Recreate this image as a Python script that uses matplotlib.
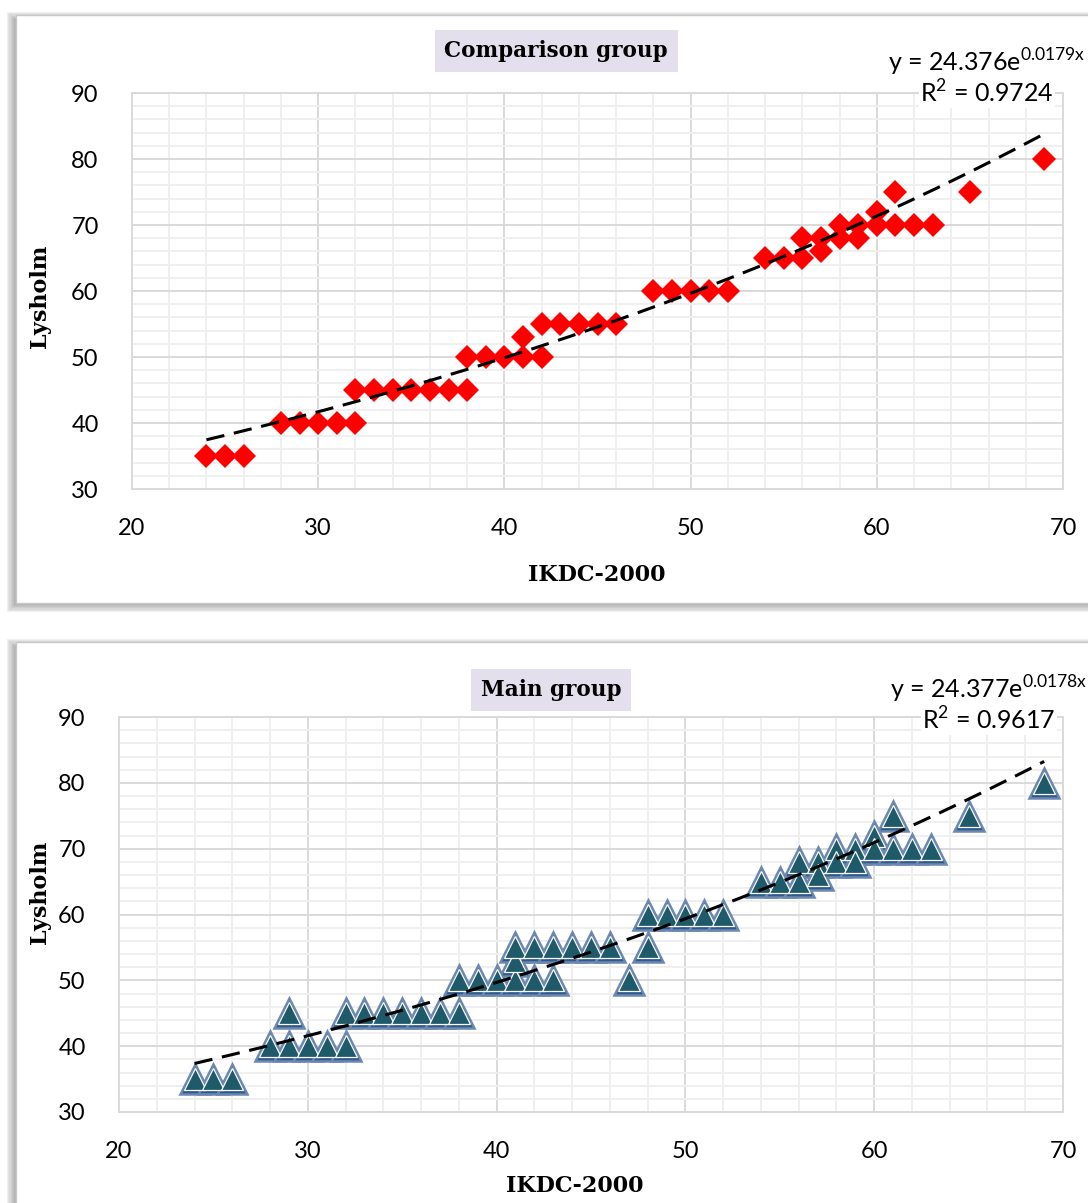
import numpy as np
import matplotlib
matplotlib.use("Agg")
import matplotlib.pyplot as plt
from matplotlib.patches import Rectangle
from matplotlib.ticker import MultipleLocator

########################
# Donnees
########################

# Comparison group (IKDC-2000, Lysholm)
comp_x = [24, 25, 26, 28, 29, 30, 31, 32, 32, 33, 34, 35, 36, 37, 38,
          38, 39, 40, 41, 42, 41, 42, 43, 44, 45, 46, 48, 49, 50, 51, 52,
          54, 55, 56, 56, 57, 57, 58, 58, 59, 59, 60, 60, 61, 61, 62, 63, 65, 69]
comp_y = [35, 35, 35, 40, 40, 40, 40, 40, 45, 45, 45, 45, 45, 45, 45,
          50, 50, 50, 50, 50, 53, 55, 55, 55, 55, 55, 60, 60, 60, 60, 60,
          65, 65, 65, 68, 68, 66, 70, 68, 70, 68, 72, 70, 75, 70, 70, 70, 75, 80]
comp_a, comp_b = 24.376, 0.0179
comp_r2 = "0.9724"

# Main group
main_x = [24, 25, 26, 28, 29, 30, 31, 32, 29, 32, 33, 34, 35, 36, 37, 38,
          38, 39, 40, 41, 42, 43, 41, 41, 42, 43, 44, 45, 46, 47, 48,
          48, 49, 50, 51, 52, 54, 55, 56, 56, 57, 57, 58, 58, 59, 59,
          60, 60, 61, 61, 62, 63, 65, 69]
main_y = [35, 35, 35, 40, 40, 40, 40, 40, 45, 45, 45, 45, 45, 45, 45, 45,
          50, 50, 50, 50, 50, 50, 53, 55, 55, 55, 55, 55, 55, 50, 55,
          60, 60, 60, 60, 60, 65, 65, 65, 68, 68, 66, 70, 68, 70, 68,
          72, 70, 75, 70, 70, 70, 75, 80]
main_a, main_b = 24.377, 0.0178
main_r2 = "0.9617"

x_ticks = [20, 30, 40, 50, 60, 70]
y_ticks = [30, 40, 50, 60, 70, 80, 90]

########################
# Mise en page (pixels)
########################

W, H = 1088, 1203
plt.rcParams['mathtext.fontset'] = 'custom'
plt.rcParams['mathtext.rm'] = 'Lato'
tick_font = 'Lato'
bold_font = 'DejaVu Serif'

fig = plt.figure(figsize=(W / 100, H / 100), dpi=100)


def fx(px):
    return px / W


def fy(py):
    return 1 - py / H


def panneau(y0, y1):
    # ombre grise puis cadre blanc
    for i in range(7):
        d = 9 - i * 1.2
        fig.patches.append(Rectangle((fx(16 - d), fy(y1 + d)), fx(1120), (y1 - y0 + 2 * d - 6) / H,
                                     transform=fig.transFigure, facecolor='#7f7f7f',
                                     alpha=0.11, edgecolor='none', zorder=-3))
    fig.patches.append(Rectangle((fx(16), fy(y1)), fx(1100), (y1 - y0) / H,
                                 transform=fig.transFigure, facecolor='white',
                                 edgecolor='#c8c8c8', lw=1, zorder=-2))


def graphique(left, top, bottom, xs, ys, a, b, r2, titre, title_xy, eq_xy, axlab_y, ylab_x, style):
    ax = fig.add_axes([fx(left), fy(bottom), fx(1063) - fx(left), fy(top) - fy(bottom)])
    ax.set_xlim(20, 70)
    ax.set_ylim(30, 90)
    ax.set_xticks(x_ticks)
    ax.set_yticks(y_ticks)
    ax.xaxis.set_minor_locator(MultipleLocator(2))
    ax.yaxis.set_minor_locator(MultipleLocator(2))
    ax.grid(which='minor', color='#efefef', lw=1.4, zorder=0)
    ax.grid(which='major', color='#d9d9d9', lw=1.4, zorder=0)
    ax.set_axisbelow(True)
    ax.tick_params(which='both', length=0, labelsize=17)
    ax.tick_params(axis='x', pad=21)
    ax.tick_params(axis='y', pad=24)
    for lab in ax.get_xticklabels() + ax.get_yticklabels():
        lab.set_fontfamily(tick_font)
    for s in ax.spines.values():
        s.set_color('#d9d9d9')
        s.set_linewidth(1.4)

    if style == 'diamond':
        ax.plot(xs, ys, linestyle='none', marker='D', ms=12, mfc='#ff0000', mec='#ff0000', mew=0, zorder=3)
    else:
        ax.plot(xs, ys, linestyle='none', marker='^', ms=22, mfc='#2f5a8e', mec='#6a88b0', mew=1.8, zorder=3)
        ax.plot(xs, ys, linestyle='none', marker='^', ms=16, mfc='#1f5a6a', mec='white', mew=0.9, zorder=4)

    # courbe de tendance exponentielle
    xt = np.linspace(min(xs), max(xs), 200)
    ax.plot(xt, a * np.exp(b * xt), color='black', lw=2.2, dashes=(6, 3.2), zorder=5)

    fig.text(fx(title_xy[0]), fy(title_xy[1]), titre, ha='center', va='center', fontsize=15.5,
             fontweight='bold', family=bold_font,
             bbox=dict(facecolor='#e4dfec', edgecolor='none', pad=7))
    fig.text(fx(eq_xy[0]), fy(eq_xy[1]), r'y = %se$^{\mathregular{%sx}}$' % (a, b), ha='center',
             va='center', fontsize=18, family=tick_font, zorder=6,
             bbox=dict(facecolor='white', edgecolor='none', pad=1))
    fig.text(fx(eq_xy[0]), fy(eq_xy[1] + 31), r'R$^{\mathregular{2}}$ = %s' % r2, ha='center',
             va='center', fontsize=18, family=tick_font, zorder=6,
             bbox=dict(facecolor='white', edgecolor='none', pad=1))
    fig.text(fx(ylab_x[0]), fy(ylab_x[1]), 'IKDC-2000', ha='center', va='center', fontsize=16,
             fontweight='bold', family=bold_font)
    fig.text(fx(40), fy(axlab_y), 'Lysholm', ha='center', va='center', rotation=90, fontsize=16,
             fontweight='bold', family=bold_font)
    return ax


########################
# Script
########################

panneau(15, 603)
panneau(642, 1230)

graphique(132, 93, 489, comp_x, comp_y, comp_a, comp_b, comp_r2, 'Comparison group',
          (556, 51), (987, 62), 296, (597, 575), 'diamond')
graphique(119, 717, 1112, main_x, main_y, main_a, main_b, main_r2, 'Main group',
          (551, 690), (989, 689), 892, (575, 1186), 'triangle')

fig.savefig('out.png', dpi=100)
